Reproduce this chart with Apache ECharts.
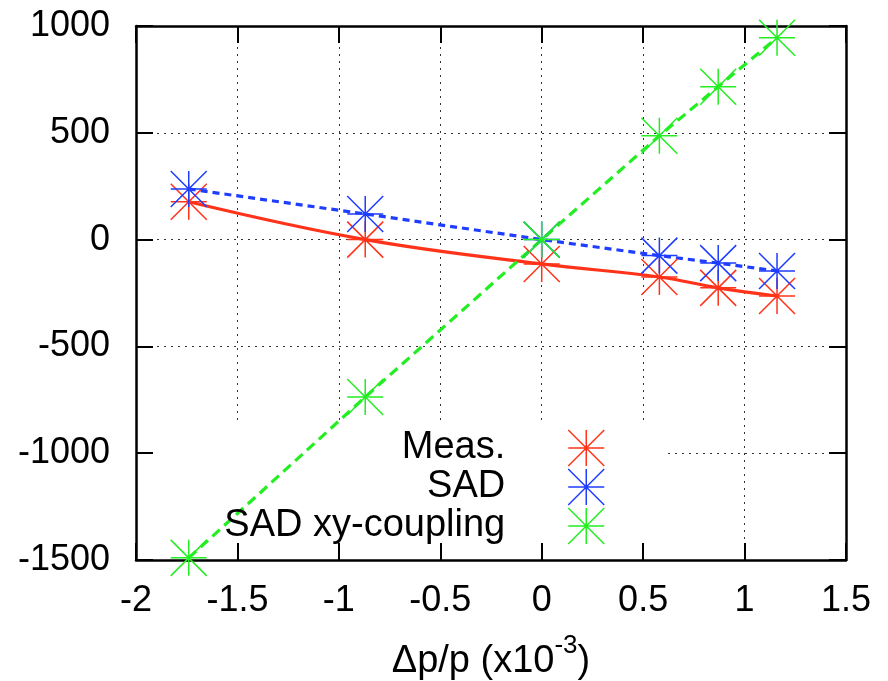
<!DOCTYPE html>
<html>
<head>
<meta charset="utf-8">
<script src="https://cdn.jsdelivr.net/npm/echarts@6/dist/echarts.min.js"></script>
<style>
html,body{margin:0;padding:0;background:#fff;}
#chart{width:888px;height:681px;}
</style>
</head>
<body>
<div id="chart"></div>
<script>
// ---- data ----
var xVals = [-1.74, -0.87, 0, 0.58, 0.87, 1.16];
var measVals = [177, 0, -114, -175, -226, -264];
var sadVals = [237, 120, 0, -75, -110, -147];
var sadXYVals = [-1490, -737, 0, 486, 716, 945];
var seriesNames = ['Meas.', 'SAD', 'SAD xy-coupling'];
var xTicks = { min: -2, max: 1.5, interval: 0.5 };
var yTicks = { min: -1500, max: 1000, interval: 500 };

// ---- style ----
var RED = '#ff3319', BLUE = '#1f3dff', GREEN = '#22ee22';
var FONT = 'Liberation Sans';
var FS = 36;
var FSL = 38;
var STAR = 'path://M0,50L100,50M50,0L50,100M0,0L100,100M100,0L0,100';

function pairs(xs, ys) { return xs.map(function (x, i) { return [x, ys[i]]; }); }

var chart = echarts.init(document.getElementById('chart'), null, { renderer: 'canvas' });

function scatter(name, ys, color) {
  return {
    type: 'scatter', name: name, data: pairs(xVals, ys),
    symbol: STAR, symbolSize: 36, z: 3,
    itemStyle: { color: 'rgba(0,0,0,0)', borderColor: color, borderWidth: 1.5, opacity: 1 },
    emphasis: { disabled: true }, silent: true
  };
}
function line(ys, color, type, smooth) {
  return {
    type: 'line', data: pairs(xVals, ys), showSymbol: false, symbol: 'none',
    smooth: smooth, z: 2,
    lineStyle: { color: color, width: 3.2, type: type },
    emphasis: { disabled: true }, silent: true
  };
}
function legend(name, color, top) {
  return {
    show: true, selectedMode: false, orient: 'horizontal', align: 'right',
    right: 283, top: top, padding: 0,
    itemWidth: 152, itemHeight: 36, symbolKeepAspect: true,
    textStyle: { fontFamily: FONT, fontSize: FSL, color: '#000' },
    data: [{ name: name, icon: STAR,
      itemStyle: { color: 'rgba(0,0,0,0)', borderColor: color, borderWidth: 1.5 } }]
  };
}

var grid = { left: 136, right: 42, top: 26, bottom: 121, containLabel: false, outerBoundsMode: 'none' };
var splitStyle = { show: true, lineStyle: { color: '#333', width: 1, type: [2, 5] } };
var axisLine = { show: true, onZero: false, lineStyle: { color: '#000', width: 2.5 } };
var tick = { show: true, inside: true, length: 17, lineStyle: { color: '#000', width: 2 } };
var plain = function (v) { return String(v); };

chart.setOption({
  animation: false,
  backgroundColor: '#fff',
  grid: grid,
  legend: [
    legend(seriesNames[0], RED, 429),
    legend(seriesNames[1], BLUE, 468),
    legend(seriesNames[2], GREEN, 507)
  ],
  graphic: [{
    type: 'rect', z: 1, silent: true,
    shape: { x: 155, y: 425, width: 510, height: 117 },
    style: { fill: '#fff' }
  }],
  xAxis: [{
    type: 'value', min: xTicks.min, max: xTicks.max, interval: xTicks.interval,
    position: 'bottom', axisLine: axisLine, axisTick: tick, splitLine: splitStyle,
    axisLabel: { margin: 23, color: '#000', fontFamily: FONT, fontSize: FS,
      showMinLabel: true, showMaxLabel: true, formatter: plain },
    name: '{a|Δp/p (x10}{b|-3}{a|)}', nameLocation: 'middle', nameGap: 73,
    nameTextStyle: {
      rich: {
        a: { fontFamily: FONT, fontSize: FSL, color: '#000', lineHeight: 48, verticalAlign: 'bottom' },
        b: { fontFamily: FONT, fontSize: 26, color: '#000', lineHeight: 20, verticalAlign: 'top' }
      }
    }
  }, {
    type: 'value', min: xTicks.min, max: xTicks.max, interval: xTicks.interval,
    position: 'top', axisLine: axisLine, axisTick: tick, splitLine: { show: false },
    axisLabel: { show: false }
  }],
  yAxis: [{
    type: 'value', min: yTicks.min, max: yTicks.max, interval: yTicks.interval,
    position: 'left', axisLine: axisLine, axisTick: tick, splitLine: splitStyle,
    axisLabel: { margin: 26, color: '#000', fontFamily: FONT, fontSize: FS,
      showMinLabel: true, showMaxLabel: true, formatter: plain }
  }, {
    type: 'value', min: yTicks.min, max: yTicks.max, interval: yTicks.interval,
    position: 'right', axisLine: axisLine, axisTick: tick, splitLine: { show: false },
    axisLabel: { show: false }
  }],
  series: [
    line(measVals, RED, 'solid', 0.4),
    line(sadVals, BLUE, [7, 5], false),
    line(sadXYVals, GREEN, [10, 6], false),
    scatter(seriesNames[0], measVals, RED),
    scatter(seriesNames[1], sadVals, BLUE),
    scatter(seriesNames[2], sadXYVals, GREEN)
  ]
});
</script>
</body>
</html>
